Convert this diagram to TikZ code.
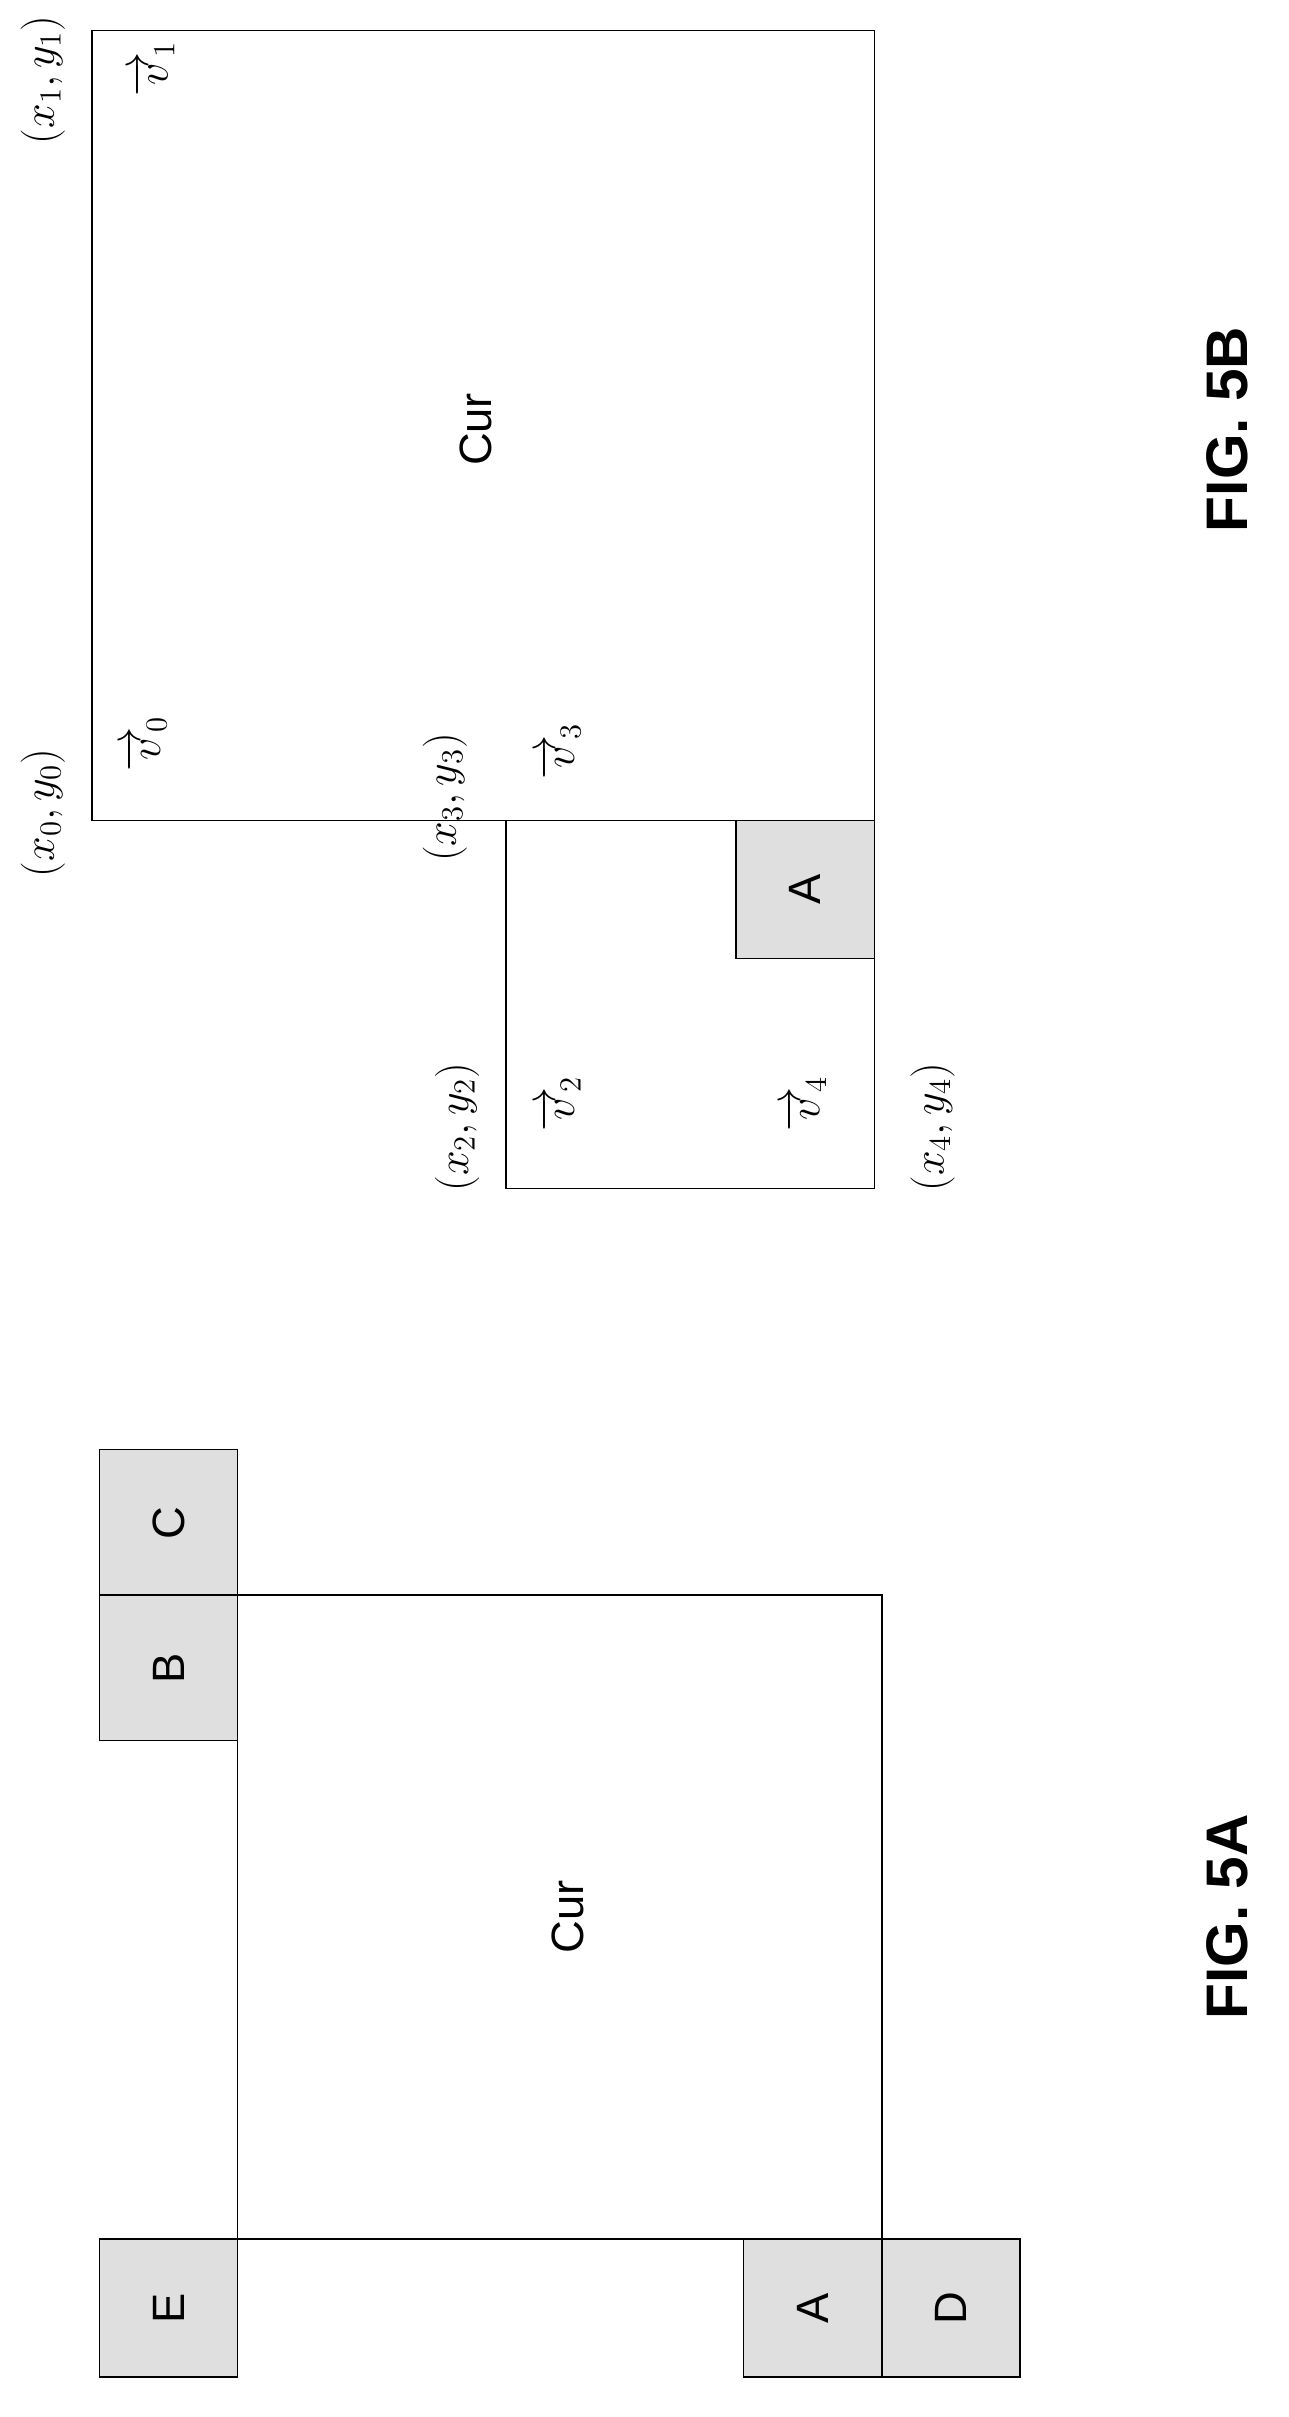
\documentclass[tikz,border=0pt]{standalone}
\usepackage{fontspec}
\setmainfont{Liberation Serif}
\setsansfont{Liberation Sans}
\usepackage{amsmath}

\tikzset{
  blk/.style={draw, line width=1pt},
  shd/.style={draw, line width=1pt, fill=gray!25},
  lbl/.style={rotate=90, font=\sffamily\fontsize{34}{40}\selectfont},
  figcap/.style={rotate=90, font=\sffamily\bfseries\fontsize{44}{50}\selectfont},
  pt/.style={rotate=90, inner sep=1pt, scale=1.6, font=\fontsize{20}{24}\selectfont}
}

\begin{document}
\begin{tikzpicture}[x=1.1508pt, y=-1.1508pt]
\useasboundingbox (0,0) rectangle (840,1576);
% FIG. 5A
\draw[blk] (155,1040) rectangle (575,1460);
\draw[shd] (65,1040) rectangle (155,1135);
\draw[shd] (65,945) rectangle (155,1040);
\draw[shd] (65,1460) rectangle (155,1550);
\draw[shd] (485,1460) rectangle (575,1550);
\draw[shd] (575,1460) rectangle (665,1550);
\node[lbl] (bb) at (110,1088) {B};
\node[lbl] (cc) at (110,993) {C};
\node[lbl] (ee) at (110,1505) {E};
\node[lbl] (aa) at (530,1505) {A};
\node[lbl] (dd) at (620,1505) {D};
\node[lbl] (cura) at (370,1250) {Cur};
\node[figcap] (figa) at (800,1250) {FIG. 5A};
% FIG. 5B
\draw[blk] (60,20) rectangle (570,535);
\draw[blk] (330,535) -- (330,775) -- (570,775) -- (570,535);
\draw[shd] (480,535) rectangle (570,625);
\node[lbl] (ab) at (525,580) {A};
\node[lbl] (curb) at (310,280) {Cur};
\node[figcap] (figb) at (800,280) {FIG. 5B};
\node[pt] (p0) at (28,530) {$(x_0,y_0)$};
\node[pt] (p1) at (28,52) {$(x_1,y_1)$};
\node[pt] (p3) at (290,520) {$(x_3,y_3)$};
\node[pt] (p2) at (298,735) {$(x_2,y_2)$};
\node[pt] (p4) at (608,735) {$(x_4,y_4)$};
\node[pt] (v0) at (95,485) {$\overrightarrow{v}_{\!0}$};
\node[pt] (v1) at (100,45) {$\overrightarrow{v}_{\!1}$};
\node[pt] (v3) at (365,490) {$\overrightarrow{v}_{\!3}$};
\node[pt] (v2) at (365,720) {$\overrightarrow{v}_{\!2}$};
\node[pt] (v4) at (525,720) {$\overrightarrow{v}_{\!4}$};
\end{tikzpicture}
\end{document}
